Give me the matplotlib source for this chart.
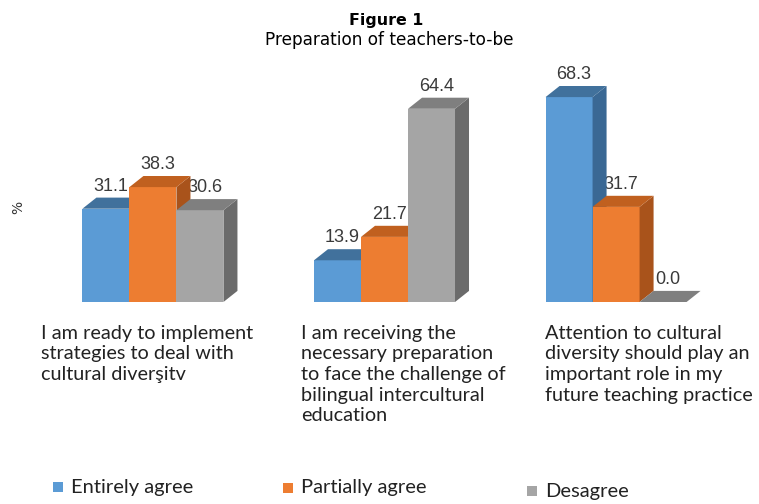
import matplotlib
matplotlib.use("Agg")
import matplotlib.pyplot as plt
from matplotlib.patches import Polygon, Rectangle

W, H = 759, 504
DPI = 100

# data
categories = [
    "I am ready to implement\nstrategies to deal with\ncultural diverşitv",
    "I am receiving the\nnecessary preparation\nto face the challenge of\nbilingual intercultural\neducation",
    "Attention to cultural\ndiversity should play an\nimportant role in my\nfuture teaching practice",
]
series = ["Entirely agree", "Partially agree", "Desagree"]
entirely = [31.1, 13.9, 68.3]
partially = [38.3, 21.7, 31.7]
disagree = [30.6, 64.4, 0.0]
values = [entirely, partially, disagree]

# colours: front, top, side
FRONT = ["#5b9bd5", "#ed7d31", "#a5a5a5"]
TOP = ["#41719c", "#c0601f", "#7f7f7f"]
SIDE = ["#3a6894", "#a9531b", "#6b6b6b"]
TEXT = "#222222"
VAL = "#3a3a3a"

BW = 0.203      # bar width (data units)
DX = 0.0605     # depth x (data units)
DY = 3.7        # depth y (data units)

fig = plt.figure(figsize=(W / DPI, H / DPI), dpi=DPI, facecolor="white")
ax = fig.add_axes([14 / W, 202 / H, 741 / W, 240 / H])
ax.set_xlim(-0.6, 2.6)
ax.set_ylim(0, 80)
ax.axis("off")

for i in range(len(categories)):
    for j, vals in enumerate(values):
        h = vals[i]
        x = i + (j - 1) * BW
        z = 3 + j
        ax.bar(x, h, BW, color=FRONT[j], linewidth=0, zorder=z)
        xr, xl = x + BW / 2, x - BW / 2
        ax.add_patch(Polygon([(xr, 0), (xr + DX, DY), (xr + DX, h + DY), (xr, h)],
                             closed=True, facecolor=SIDE[j], linewidth=0, zorder=z))
        ax.add_patch(Polygon([(xl, h), (xr, h), (xr + DX, h + DY), (xl + DX, h + DY)],
                             closed=True, facecolor=TOP[j], linewidth=0, zorder=z))
        ax.annotate(f"{h:.1f}", (x + DX * 0.35, h + DY), xytext=(0, 2),
                    textcoords="offset points", ha="center", va="bottom",
                    fontsize=13, family="Liberation Sans", color=VAL,
                    zorder=2, annotation_clip=False)

# category labels
LABEL_X = [41, 301, 545]
for lx, cat in zip(LABEL_X, categories):
    fig.text(lx / W, 1 - 325 / H, cat, ha="left", va="top", fontsize=14.3,
             family="Lato", color=TEXT, linespacing=1.25)

# titles
fig.text(386 / W, 1 - 21 / H, "Figure 1", ha="center", va="center",
         fontsize=11.4, fontweight="bold", family="DejaVu Sans", color="black")
fig.text(389 / W, 1 - 40 / H, "Preparation of teachers-to-be", ha="center",
         va="center", fontsize=12.2, family="DejaVu Sans", color="black")

# y label
fig.text(18 / W, 1 - 207 / H, "%", rotation=90, ha="center", va="center",
         fontsize=10, color="#333333")

# legend
LEG_X = [53, 283, 527]
LEG_Y = [487, 488, 491]
for lx, ly, name, c in zip(LEG_X, LEG_Y, series, FRONT):
    fig.patches.append(Rectangle(((lx) / W, 1 - (ly + 5) / H), 10 / W, 10 / H,
                                 transform=fig.transFigure, facecolor=c,
                                 linewidth=0))
    fig.text((lx + 18) / W, 1 - ly / H, name, ha="left", va="center",
             fontsize=14.5, family="Lato", color=TEXT)

fig.savefig("out.png", dpi=DPI, facecolor="white")
